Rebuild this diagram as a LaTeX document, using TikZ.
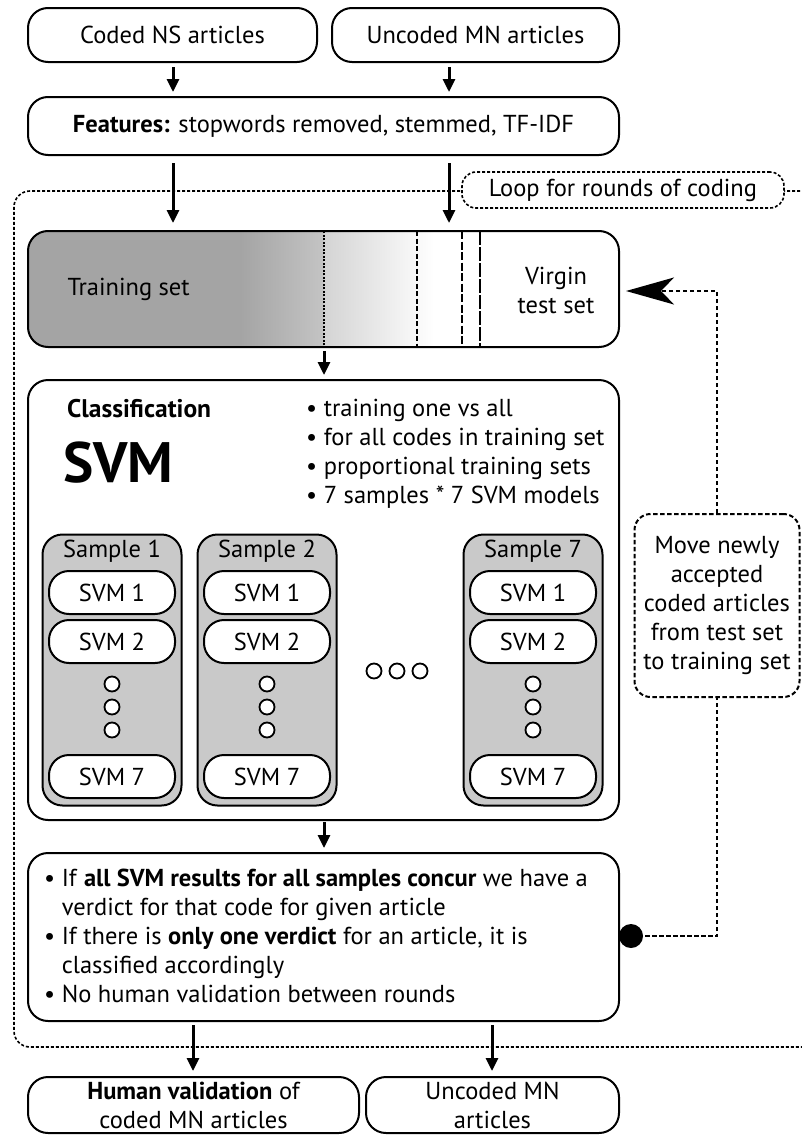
\documentclass[tikz,border=0pt]{standalone}
\usepackage{fontspec}
\setmainfont{PT Sans}
\usetikzlibrary{arrows.meta,calc}
\definecolor{tgA}{HTML}{A4A4A4}
\definecolor{tgB}{HTML}{C4C4C4}
\definecolor{tgC}{HTML}{D4D4D4}
\definecolor{sampgray}{HTML}{C9C9C9}
\begin{document}
\begin{tikzpicture}[x=1pt,y=-1pt,
  txt/.style={font=\fontsize{24.5}{29}\selectfont},
  box/.style={draw, line width=2pt, rounded corners=20pt, inner sep=0pt, align=center, txt},
  sampbox/.style={draw, line width=2pt, rounded corners=20pt, fill=sampgray, inner sep=0pt, minimum width=139, minimum height=271},
  svmbox/.style={draw, line width=2pt, rounded corners=20pt, fill=white, inner sep=0pt, minimum width=126, minimum height=43, txt},
  smalldot/.style={circle, draw, line width=1.8pt, fill=white, inner sep=0pt, minimum size=15},
  arr/.style={line width=3pt, -{Triangle[length=13pt,width=12pt]}},
  loopline/.style={line width=1.6pt, dash pattern=on 3pt off 2pt},
  fb/.style={line width=2pt, dash pattern=on 4.5pt off 2.5pt}
]
\useasboundingbox (0,0) rectangle (801,1135);

% loop frame
\draw[loopline, rounded corners=16pt] (810,191) -- (14,191) -- (14,1047) -- (810,1047);
\node[draw, loopline, fill=white, rounded corners=14pt, minimum width=322, minimum height=36, inner sep=0pt, txt] (looplabel) at (623,190) {Loop for rounds of coding};

% top boxes
\node[box, minimum width=289, minimum height=54] (coded) at (172.5,35) {Coded NS articles};
\node[box, minimum width=287, minimum height=54] (uncoded) at (475.5,35) {Uncoded MN articles};
\node[box, minimum width=591, minimum height=58] (features) at (323.5,126) {\textbf{Features:} stopwords removed, stemmed, TF-IDF};

\coordinate (xa) at (173,0);
\coordinate (xb) at (449,0);
\coordinate (xc) at (324,0);

% training set bar
\begin{scope}
  \clip[rounded corners=20pt] (28,231) rectangle (619,347);
  \fill[tgA] (28,231) rectangle (240,347);
  \shade[left color=tgA, right color=tgB] (240,231) rectangle (324,347);
  \shade[left color=tgC, right color=white] (324,231) rectangle (434,347);
\end{scope}
\draw[line width=1.3pt, dash pattern=on 2pt off 1.5pt] (324,231) -- (324,347);
\draw[line width=1.5pt, dash pattern=on 5pt off 2.5pt] (417,231) -- (417,347);
\draw[line width=1.5pt, dash pattern=on 8pt off 2.5pt] (462,231) -- (462,347);
\draw[line width=1.5pt, dash pattern=on 14pt off 2pt] (480,231) -- (480,347);
\node[box, minimum width=591, minimum height=116] (training) at (323.5,289) {};
\node[txt, anchor=west] (trainlbl) at (64,289) {Training set};
\node[txt, align=center] (virgin) at (556,290) {Virgin\\test set};

% classification
\node[box, minimum width=591, minimum height=440] (classif) at (323.5,600) {};
\node[anchor=west, inner sep=0pt, font=\fontsize{25.5}{29}\selectfont\bfseries] (clslbl) at (67,409) {Classification};
\node[anchor=west, inner sep=0pt, font=\fontsize{57}{64}\selectfont\bfseries] (svmbig) at (63,463) {SVM};
\node[txt, anchor=north west, align=left, inner sep=0pt] (clsbul) at (306,399) {%
• training one vs all\\
• for all codes in training set\\
• proportional training sets\\
• 7 samples * 7 SVM models};

% samples
\foreach \nm/\cx/\lbl in {s1/112/1, s2/267/2, s7/533/7}{
  \node[sampbox] (\nm) at (\cx,670) {};
  \node[txt] (\nm lbl) at (\cx,551) {Sample \lbl};
  \node[svmbox] (\nm a) at (\cx,592.5) {SVM 1};
  \node[svmbox] (\nm b) at (\cx,641.5) {SVM 2};
  \node[smalldot] (\nm d1) at (\cx,684) {};
  \node[smalldot] (\nm d2) at (\cx,707) {};
  \node[smalldot] (\nm d3) at (\cx,730) {};
  \node[svmbox] (\nm g) at (\cx,776.5) {SVM 7};
}
\node[smalldot] (h1) at (374,671) {};
\node[smalldot] (h2) at (397,671) {};
\node[smalldot] (h3) at (420,671) {};

% verdict
\node[box, minimum width=591, minimum height=168] (verdict) at (323.5,937) {};
\node[txt, anchor=north west, align=left, inner sep=0pt] (vtext) at (44,869) {%
• If \textbf{all SVM results for all samples concur} we have a\\
\hphantom{• }verdict for that code for given article\\
• If there is \textbf{only one verdict} for an article, it is\\
\hphantom{• }classified accordingly\\
• No human validation between rounds};

% bottom boxes
\node[box, minimum width=331, minimum height=56] (human) at (193.5,1105) {\textbf{Human validation} of\\coded MN articles};
\node[box, minimum width=253, minimum height=56] (uncodedb) at (492.5,1105) {Uncoded MN\\articles};

% move box
\node[box, fb, minimum width=165, minimum height=183, rounded corners=16pt] (move) at (717,605.5) {Move newly\\accepted\\coded articles\\from test set\\to training set};

% arrows
\draw[arr, shorten <=4pt, shorten >=4pt] (coded.south -| xa) -- (features.north -| xa);
\draw[arr, shorten <=4pt, shorten >=4pt] (uncoded.south -| xb) -- (features.north -| xb);
\draw[arr, shorten <=7pt, shorten >=7pt] (features.south -| xa) -- (training.north -| xa);
\draw[arr, shorten <=7pt, shorten >=7pt] (features.south -| xb) -- (training.north -| xb);
\draw[arr, shorten <=3pt, shorten >=4pt] (training.south -| xc) -- (classif.north -| xc);
\draw[arr, shorten <=1pt, shorten >=4pt] (classif.south -| xc) -- (verdict.north -| xc);
\coordinate (xd) at (193,0);
\coordinate (xe) at (492,0);
\draw[arr, shorten <=3pt, shorten >=5pt] (verdict.south -| xd) -- (human.north -| xd);
\draw[arr, shorten <=3pt, shorten >=5pt] (verdict.south -| xe) -- (uncodedb.north -| xe);

% feedback
\node[circle, fill=black, inner sep=0pt, minimum size=24] (fbdot) at (631,936) {};
\coordinate (fbturn) at (717,291);
\draw[fb] (fbdot.center) -| (move.south);
\draw[fb, -{Stealth[length=48pt,width=27pt,inset=13pt]}, shorten >=6pt] (move.north) -- (fbturn) -- (training.east |- fbturn);
\end{tikzpicture}
\end{document}
